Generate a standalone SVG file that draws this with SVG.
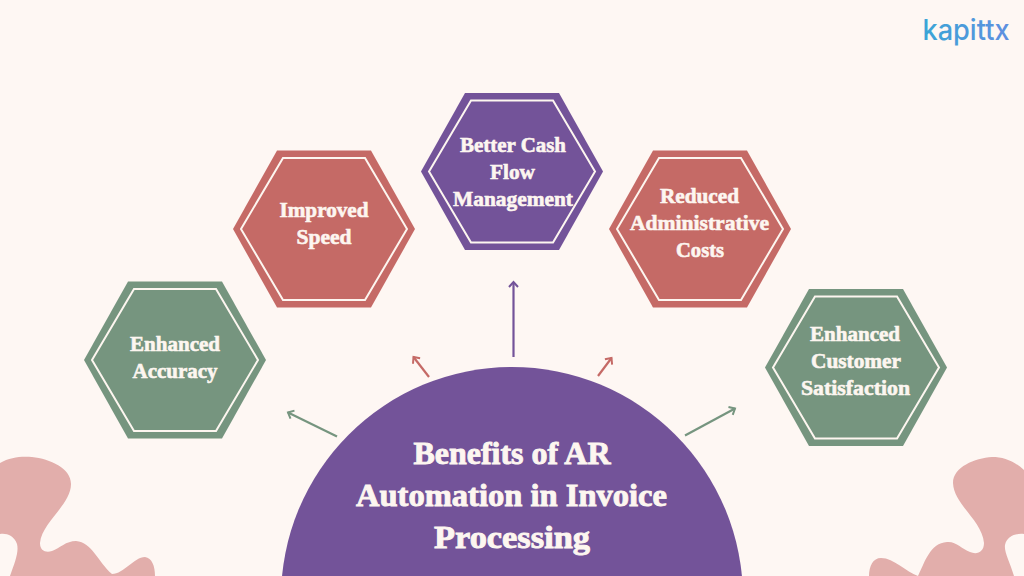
<svg xmlns="http://www.w3.org/2000/svg" width="1024" height="576" viewBox="0 0 1024 576">
<style>
.t{font-family:"Liberation Serif","DejaVu Serif",serif;font-weight:700;font-size:21px;fill:#fdf6f0;text-anchor:middle;stroke:#fdf6f0;stroke-width:.6px}
.h{font-size:32px;stroke-width:.9px}
.in{fill:none;stroke:#fdf6f0;stroke-width:2px}
.blob{fill:#e2aeab}
.c{fill:none;stroke-width:2.2px}
.pu{fill:#735399}.re{fill:#c56a66}.gr{fill:#76957f}
</style>
<defs>
<polygon id="outer" points="-91,0 -47,-78.500 47,-78.500 91,0 47,78.500 -47,78.500"/>
<polygon id="inner" class="in" points="-83,0 -41,-71 41,-71 83,0 41,71 -41,71"/>
<linearGradient id="lg" x1="0" y1="0" x2="1" y2="0"><stop offset="0" stop-color="#3aa5d6"/><stop offset="1" stop-color="#5f8fe0"/></linearGradient>
<marker id="ag" markerWidth="10" markerHeight="12" refX="7" refY="6" orient="auto" markerUnits="userSpaceOnUse"><path d="M2,1.500 L7,6 L2,10.500" fill="none" stroke="#76957f" stroke-width="2"/></marker>
<marker id="ar" markerWidth="10" markerHeight="12" refX="7" refY="6" orient="auto" markerUnits="userSpaceOnUse"><path d="M2,1.500 L7,6 L2,10.500" fill="none" stroke="#c56a66" stroke-width="2"/></marker>
<marker id="ap" markerWidth="10" markerHeight="12" refX="7" refY="6" orient="auto" markerUnits="userSpaceOnUse"><path d="M2,1.500 L7,6 L2,10.500" fill="none" stroke="#735399" stroke-width="2"/></marker>
</defs>
<rect width="1024" height="576" fill="#fef7f3"/>
<path class="blob" d="M0,463 C10,457 22,456 32,457 C50,459 71,468 71,484 C71,505 42,522 40,543 C40,551 46,553 52,551 C60,548 66,541 76,541 C92,542 98,562 112,574 C124,574 134,557 145,557 C152,558 155,566 155,576 L10,576 C15,562 19,552 17,544 C14,535 6,533 0,534 Z"/>
<path class="blob" d="M1024,470 C1014,461 1004,457 992,457 C975,458 953,467 953,483 C954,505 982,520 984,543 C984,552 977,555 970,552 C962,549 956,541 947,542 C930,543 925,562 918,576 C906,572 894,558 881,558 C873,558 869,566 869,576 L1014,576 C1010,562 1004,552 1005,545 C1007,536 1016,533 1024,534 Z"/>
<text x="966" y="40" font-family="Inter,'Open Sans',sans-serif" font-size="29" font-weight="500" fill="url(#lg)" text-anchor="middle" textLength="87" lengthAdjust="spacingAndGlyphs">kapittx</text>
<g id="connectors">
<line class="c" stroke="#735399" marker-end="url(#ap)" x1="513.500" y1="357" x2="513.500" y2="282"/>
<line class="c" stroke="#c56a66" marker-end="url(#ar)" x1="429" y1="377" x2="413.500" y2="357"/>
<line class="c" stroke="#c56a66" marker-end="url(#ar)" x1="598" y1="376" x2="611.500" y2="358"/>
<line class="c" stroke="#76957f" marker-end="url(#ag)" x1="337" y1="436.500" x2="288" y2="412.500"/>
<line class="c" stroke="#76957f" marker-end="url(#ag)" x1="685" y1="435.500" x2="735" y2="408.500"/>
</g>
<g id="center"><circle cx="512" cy="598" r="231" class="pu"/>
<text class="t h" x="512" y="464" textLength="197" lengthAdjust="spacingAndGlyphs">Benefits of AR</text>
<text class="t h" x="511.500" y="506" textLength="311" lengthAdjust="spacingAndGlyphs">Automation in Invoice</text>
<text class="t h" x="512" y="548" textLength="156" lengthAdjust="spacingAndGlyphs">Processing</text></g>
<g id="n1" transform="translate(175,360)"><use href="#outer" class="gr"/><use href="#inner"/>
<text class="t" y="-9" textLength="90" lengthAdjust="spacingAndGlyphs">Enhanced</text>
<text class="t" y="18" textLength="85" lengthAdjust="spacingAndGlyphs">Accuracy</text></g>
<g id="n2" transform="translate(324,229)"><use href="#outer" class="re"/><use href="#inner"/>
<text class="t" y="-12" textLength="89" lengthAdjust="spacingAndGlyphs">Improved</text>
<text class="t" y="15" textLength="55" lengthAdjust="spacingAndGlyphs">Speed</text></g>
<g id="n3" transform="translate(512,171.500)"><use href="#outer" class="pu"/><use href="#inner"/>
<text class="t" x="1" y="-19.500" textLength="106" lengthAdjust="spacingAndGlyphs">Better Cash</text>
<text class="t" x="0.500" y="7.500" textLength="45" lengthAdjust="spacingAndGlyphs">Flow</text>
<text class="t" x="1" y="34.500" textLength="120" lengthAdjust="spacingAndGlyphs">Management</text></g>
<g id="n4" transform="translate(700,229)"><use href="#outer" class="re"/><use href="#inner"/>
<text class="t" x="-0.500" y="-26" textLength="79" lengthAdjust="spacingAndGlyphs">Reduced</text>
<text class="t" x="-0.500" y="1" textLength="139" lengthAdjust="spacingAndGlyphs">Administrative</text>
<text class="t" y="28" textLength="48" lengthAdjust="spacingAndGlyphs">Costs</text></g>
<g id="n5" transform="translate(856,367.500)"><use href="#outer" class="gr"/><use href="#inner"/>
<text class="t" x="-1" y="-26.500" textLength="90" lengthAdjust="spacingAndGlyphs">Enhanced</text>
<text class="t" y="0.500" textLength="90" lengthAdjust="spacingAndGlyphs">Customer</text>
<text class="t" x="-0.500" y="27.500" textLength="109" lengthAdjust="spacingAndGlyphs">Satisfaction</text></g>
</svg>
